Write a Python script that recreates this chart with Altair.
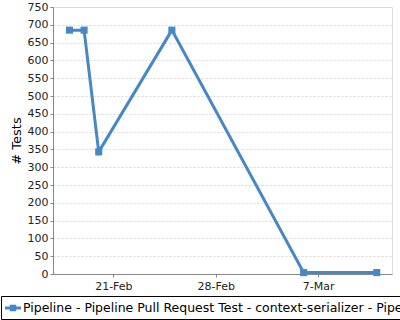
import altair as alt
import pandas as pd

dates = ["2023-02-18T00:00:00", "2023-02-19T00:00:00", "2023-02-20T00:00:00",
         "2023-02-25T00:00:00", "2023-03-06T00:00:00", "2023-03-11T00:00:00"]
tests = [685, 685, 343, 685, 4, 4]
series_name = "Pipeline - Pipeline Pull Request Test - context-serializer - Pipeline Pull Request Test"
y_ticks = list(range(0, 751, 50))

df = pd.DataFrame({"date": dates, "tests": tests, "series": [series_name] * len(dates)})

color = "#4687c6"
font = "DejaVu Sans"

x_enc = alt.X(
    "date:T",
    title=None,
    scale=alt.Scale(domain=[alt.DateTime(year=2023, month=2, date=16, hours=21),
                            alt.DateTime(year=2023, month=3, date=12, hours=1)]),
    axis=alt.Axis(
        values=[alt.DateTime(year=2023, month=2, date=21),
                alt.DateTime(year=2023, month=2, date=28),
                alt.DateTime(year=2023, month=3, date=7)],
        format="%-d-%b", grid=False, tickSize=3, labelPadding=3,
        labelFontSize=11, labelColor="#222", domainColor="#888", tickColor="#888",
    ),
)
y_enc = alt.Y(
    "tests:Q",
    title="# Tests",
    scale=alt.Scale(domain=[0, 750], nice=False),
    axis=alt.Axis(
        values=y_ticks, grid=True, gridDash=[2, 2], gridColor="#d8d8d8",
        tickSize=3, labelPadding=2, labelFontSize=11, labelColor="#222",
        domainColor="#888", tickColor="#888", titleFontSize=13,
        titleFontWeight="normal", titleColor="#000", titlePadding=4,
        labelOverlap=False,
    ),
)
col_enc = alt.Color(
    "series:N",
    scale=alt.Scale(range=[color]),
    legend=alt.Legend(
        orient="none", legendX=-52, legendY=289, title=None,
        strokeColor="#000", padding=4, labelFontSize=12.5, labelColor="#000",
        labelLimit=2000, labelOffset=2,
        symbolType="M-1,-0.2 L1,-0.2 L1,0.2 L-1,0.2 Z M-0.4,-0.4 L0.4,-0.4 L0.4,0.4 L-0.4,0.4 Z",
        symbolSize=256, symbolStrokeWidth=0, symbolFillColor=color,
    ),
)

base = alt.Chart(df).encode(x=x_enc, y=y_enc)
line = base.mark_line(strokeWidth=3, color=color).encode(color=col_enc)
pts = base.mark_square(size=50, opacity=1, color=color)

chart = alt.layer(line, pts).properties(
    width=339, height=267,
    autosize=alt.AutoSizeParams(type="none"),
    padding={"left": 53, "top": 7, "right": 8, "bottom": 46},
).configure_view(stroke="#aaa", strokeWidth=1).configure(font=font, background="white")

chart.save("out.html", embed_options={"renderer": "svg", "actions": False})
